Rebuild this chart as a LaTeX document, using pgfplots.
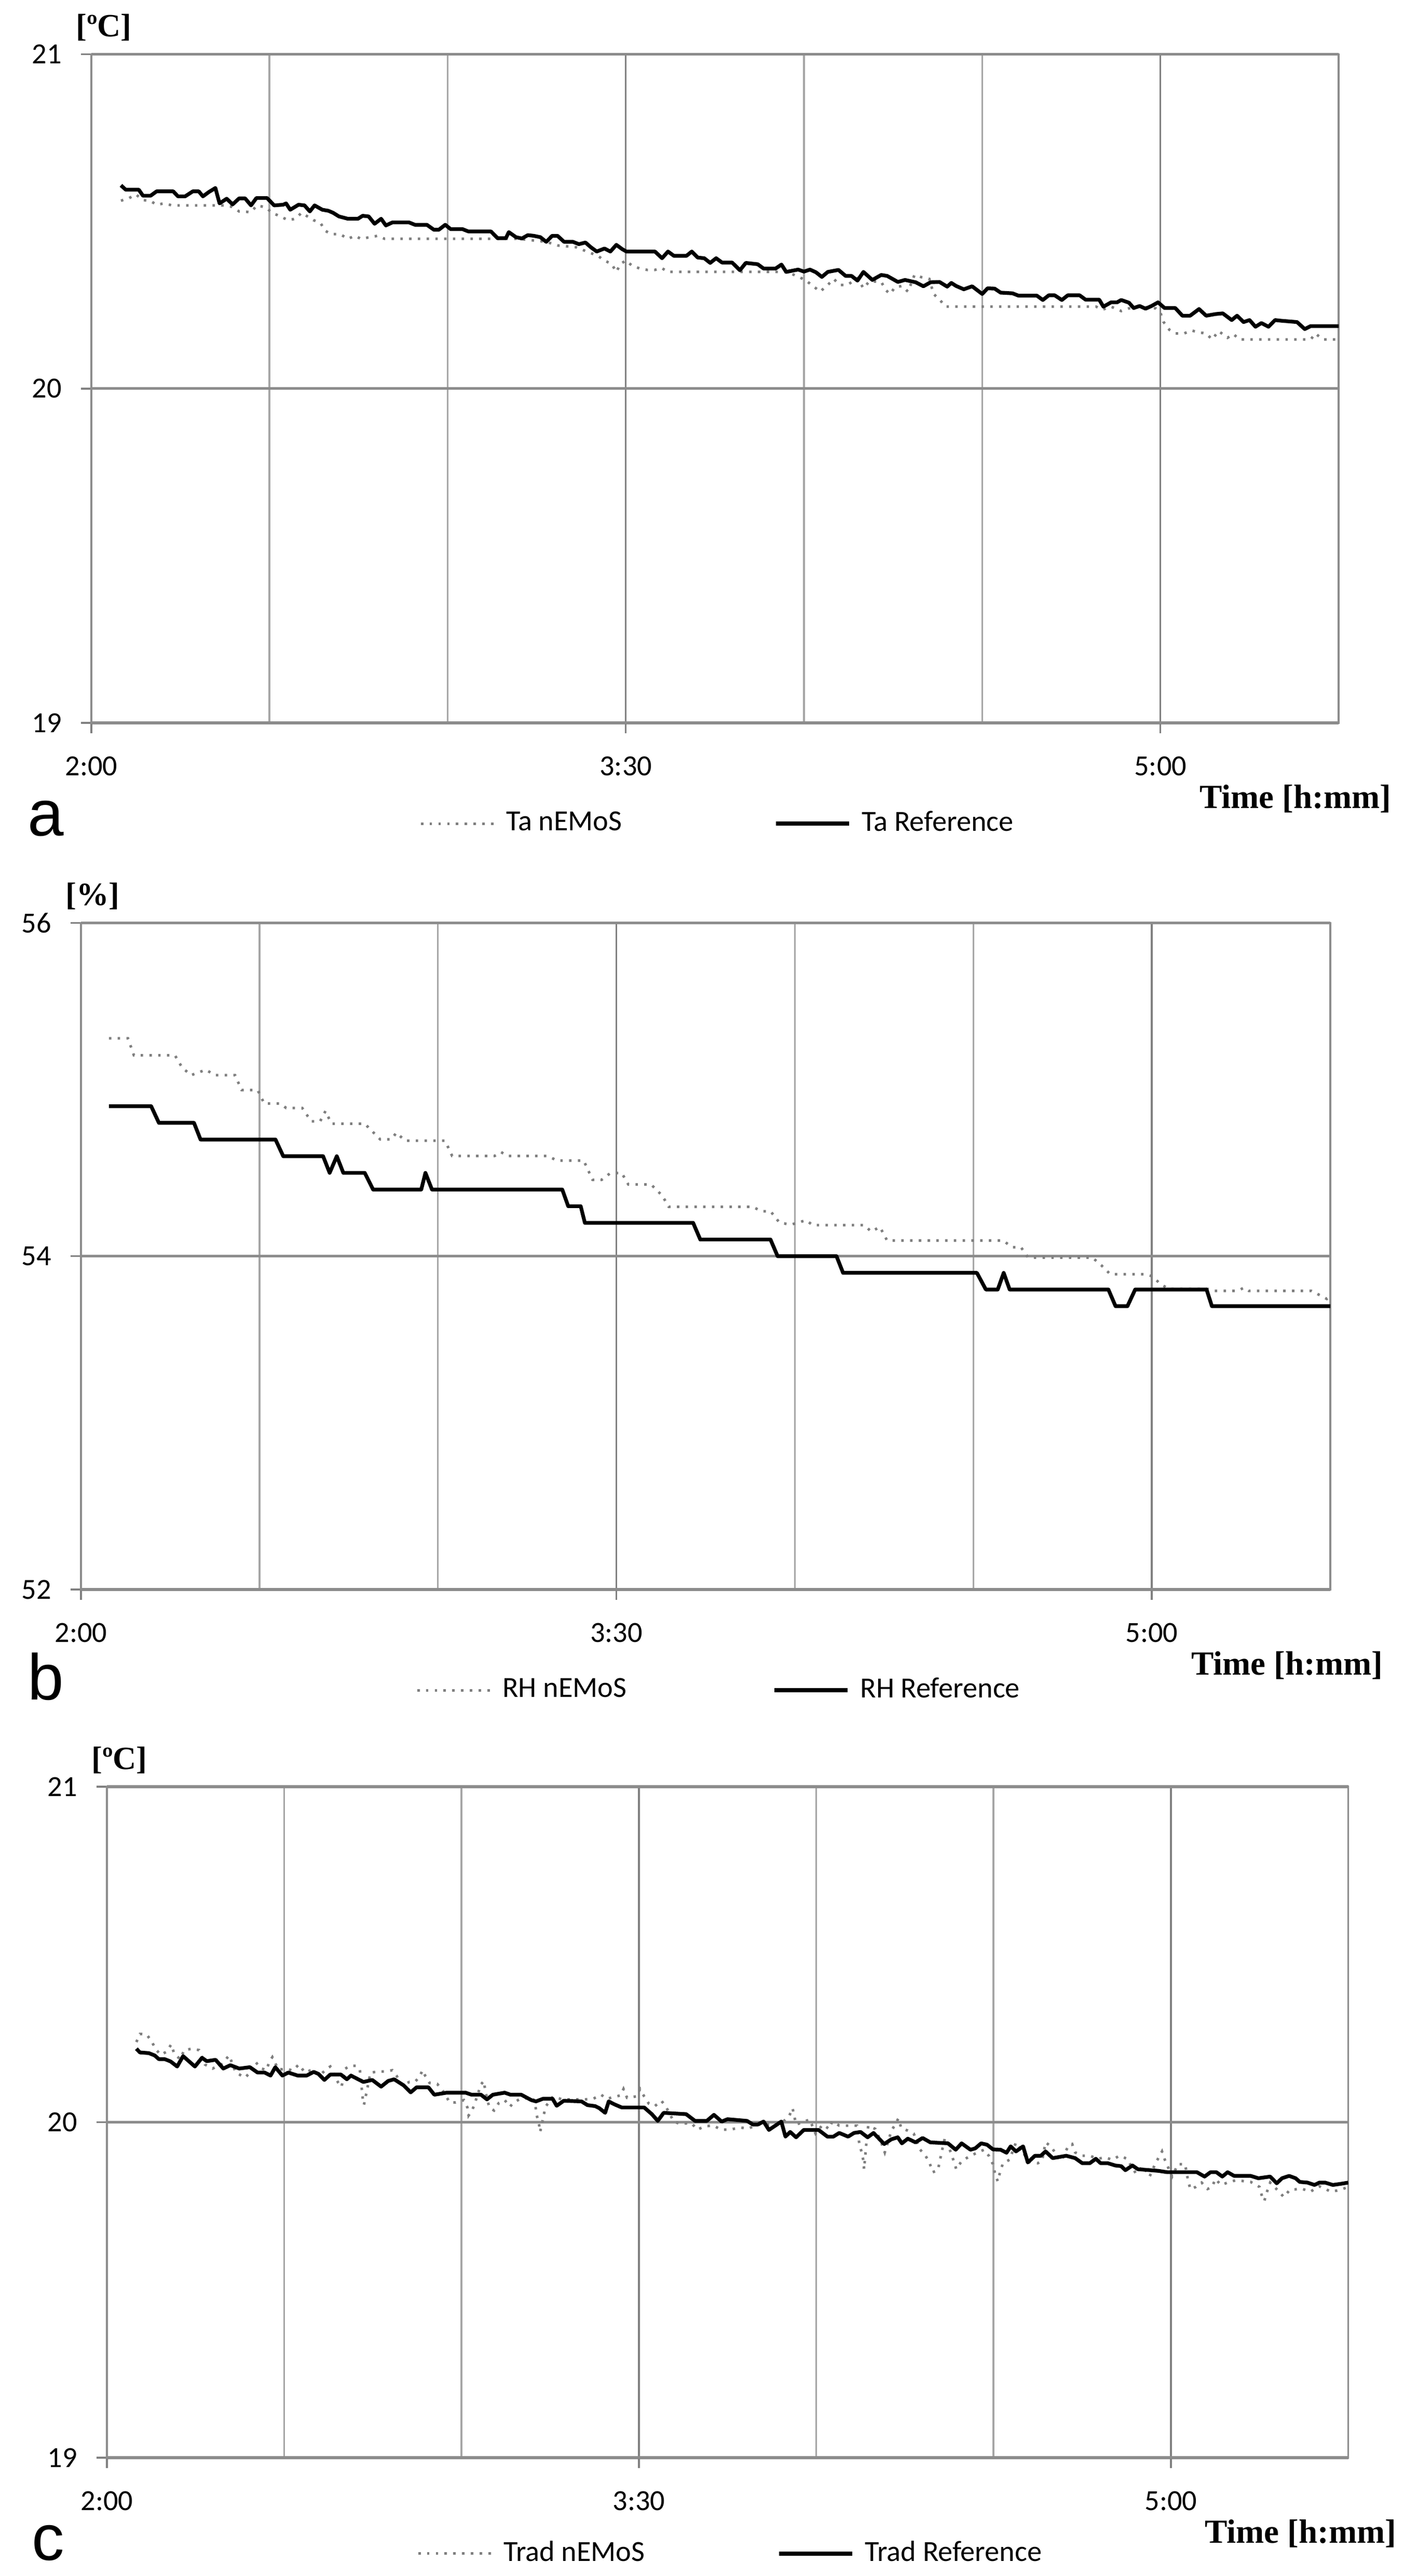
\documentclass[border=0pt]{standalone}
\usepackage{fontspec}
\usepackage{pgfplots}
\pgfplotsset{compat=1.18}
\newfontfamily\carlito{Carlito}
\newfontfamily\libserif{Liberation Serif}
\newfontfamily\libsans{Liberation Sans}
\definecolor{gridmaj}{HTML}{808080}
\definecolor{gridmin}{HTML}{A6A6A6}
\definecolor{hgrid}{HTML}{8C8C8C}
\definecolor{dotc}{HTML}{7F7F7F}
\pgfplotsset{
  panel/.style={
    scale only axis,
    xmin=0, xmax=210,
    xtick={0,90,180},
    xticklabels={2:00,3:30,5:00},
    minor xtick={30,60,120,150,210},
    xtick pos=bottom, ytick pos=left,
    xmajorgrids, xminorgrids, ymajorgrids,
    major x grid style={draw=gridmaj, line width=0.55pt},
    minor x grid style={draw=gridmin, line width=0.55pt},
    y grid style={draw=hgrid, line width=0.85pt},
    axis line style={draw=hgrid, line width=0.6pt},
    tick align=outside,
    major tick length=3.2pt,
    minor tick length=0pt,
    tick style={draw=gridmaj, line width=0.55pt},
    x tick label style={font=\carlito\fontsize{9}{10}\selectfont, yshift=-3.7pt},
    y tick label style={font=\carlito\fontsize{9}{10}\selectfont, xshift=-2.4pt},
    /pgf/number format/assume math mode=true,
    legend columns=2,
    legend style={draw=none, fill=none, inner sep=0pt, anchor=west,
       font=\carlito\fontsize{9}{10}\selectfont,
       nodes={inner sep=0pt}, column sep=3.4pt},
    legend image code/.code={\draw[##1] (0pt,0pt) -- (22.5pt,0pt);},
    legend cell align=left,
  },
  nemos/.style={draw=dotc, line width=0.8pt, dash pattern=on 0.75pt off 1.95pt, line cap=butt, mark=none},
  refl/.style={draw=black, line width=1.15pt, line join=round, mark=none},
}
\begin{document}
\begin{tikzpicture}
\path[use as bounding box] (0,0) rectangle (432.8pt,-794.24pt);

% ---------------- panel a ----------------
\begin{axis}[panel, at={(28.13pt,-222.88pt)}, anchor=south west,
  width=384.51pt, height=206.14pt,
  ymin=19, ymax=21, ytick={19,20,21},
  legend style={at={(axis description cs:0.2627,-0.1506)},
    /tikz/every even column/.append style={column sep=46.9pt}}]
\addplot[nemos] coordinates {
(5.0,20.562) (6.4,20.570) (7.5,20.581) (8.7,20.564) (10.0,20.561) (11.0,20.550) (12.3,20.554) (13.6,20.548) (22.3,20.548) (23.6,20.544) (24.9,20.530) (26.9,20.528) (27.9,20.548) (29.4,20.542) (30.4,20.526) (31.6,20.517) (33.1,20.504) (34.4,20.508) (35.4,20.526) (37.4,20.504) (38.6,20.495) (39.4,20.472) (40.4,20.462) (41.9,20.462) (43.2,20.448) (44.4,20.457) (45.4,20.448) (48.2,20.457) (49.4,20.448) (67.3,20.448) (72.0,20.448) (76.6,20.439) (78.6,20.428) (81.6,20.423) (85.3,20.397) (86.4,20.383) (87.6,20.373) (88.4,20.349) (89.1,20.373) (90.0,20.383) (91.1,20.367) (92.4,20.359) (93.6,20.355) (94.9,20.355) (96.0,20.361) (97.1,20.349) (117.2,20.349) (120.2,20.325) (121.5,20.307) (122.7,20.290) (124.0,20.310) (125.0,20.328) (126.0,20.310) (127.3,20.310) (129.0,20.330) (130.0,20.300) (131.0,20.321) (133.0,20.319) (133.8,20.294) (134.5,20.283) (135.3,20.303) (136.5,20.307) (137.5,20.290) (138.6,20.340) (139.6,20.334) (141.1,20.328) (141.8,20.283) (142.8,20.267) (143.8,20.245) (169.2,20.245) (170.2,20.236) (171.7,20.245) (173.4,20.232) (174.7,20.240) (176.7,20.245) (179.2,20.240) (180.0,20.227) (180.5,20.200) (181.5,20.176) (182.5,20.165) (184.0,20.165) (185.2,20.174) (186.5,20.168) (187.7,20.165) (188.7,20.147) (189.8,20.172) (191.3,20.152) (192.3,20.163) (193.3,20.147) (205.3,20.147) (206.1,20.165) (207.3,20.147) (210,20.147)
};
\addlegendentry{Ta nEMoS}
\addplot[refl] coordinates {
(5.0,20.608) (5.8,20.595) (8.0,20.595) (8.7,20.577) (10.0,20.577) (11.0,20.590) (13.8,20.590) (14.6,20.575) (15.8,20.575) (17.1,20.590) (18.1,20.590) (18.8,20.575) (19.8,20.588) (20.9,20.600) (21.6,20.554) (22.8,20.568) (23.8,20.551) (24.9,20.569) (25.9,20.569) (26.9,20.548) (27.8,20.570) (29.6,20.570) (30.8,20.548) (32.3,20.550) (32.8,20.554) (33.5,20.535) (34.9,20.550) (35.9,20.548) (36.8,20.530) (37.6,20.548) (38.9,20.535) (39.9,20.532) (40.7,20.526) (41.7,20.515) (43.2,20.508) (44.9,20.508) (45.7,20.517) (46.7,20.515) (47.7,20.493) (48.8,20.508) (49.6,20.488) (50.7,20.497) (53.5,20.497) (54.5,20.490) (56.5,20.490) (57.7,20.475) (58.5,20.475) (59.6,20.490) (60.5,20.477) (62.5,20.477) (63.5,20.470) (67.3,20.470) (68.4,20.450) (69.8,20.450) (70.3,20.468) (71.5,20.453) (72.5,20.449) (73.5,20.459) (74.5,20.457) (75.6,20.453) (76.6,20.439) (77.6,20.457) (78.5,20.457) (79.6,20.439) (81.1,20.439) (82.1,20.432) (83.2,20.437) (84.1,20.423) (85.1,20.410) (86.4,20.419) (87.4,20.410) (88.4,20.430) (89.4,20.417) (90.1,20.410) (94.9,20.410) (96.1,20.390) (97.1,20.410) (98.1,20.397) (100.2,20.397) (101.1,20.410) (102.1,20.392) (103.2,20.390) (104.2,20.376) (105.2,20.390) (106.2,20.377) (107.9,20.377) (109.2,20.354) (110.2,20.376) (112.2,20.372) (113.2,20.359) (115.2,20.359) (116.2,20.371) (117.0,20.349) (119.0,20.356) (120.0,20.350) (121.0,20.356) (122.0,20.348) (123.0,20.334) (124.0,20.349) (125.8,20.355) (127.0,20.337) (128.0,20.337) (129.0,20.323) (130.0,20.349) (131.5,20.325) (133.0,20.340) (134.0,20.337) (135.8,20.319) (137.0,20.325) (138.8,20.318) (140.1,20.306) (141.3,20.318) (142.8,20.319) (144.1,20.305) (144.8,20.316) (145.6,20.307) (146.9,20.297) (148.3,20.306) (150.0,20.283) (150.9,20.300) (152.1,20.299) (153.1,20.287) (155.1,20.285) (156.1,20.278) (159.2,20.278) (160.2,20.265) (161.2,20.279) (162.2,20.279) (163.4,20.265) (164.4,20.279) (166.4,20.279) (167.4,20.266) (169.7,20.266) (170.4,20.245) (171.7,20.258) (172.7,20.258) (173.4,20.265) (174.7,20.257) (175.5,20.241) (176.5,20.247) (177.5,20.239) (178.5,20.247) (179.6,20.258) (180.7,20.241) (182.5,20.241) (183.7,20.218) (185.0,20.218) (186.5,20.238) (187.7,20.218) (189.3,20.223) (190.5,20.225) (192.0,20.205) (192.9,20.218) (194.0,20.199) (195.0,20.205) (196.0,20.185) (197.0,20.196) (198.2,20.185) (199.3,20.205) (200.3,20.203) (203.0,20.199) (204.3,20.178) (205.3,20.187) (210,20.187)
};
\addlegendentry{Ta Reference}
\end{axis}

% ---------------- panel b ----------------
\begin{axis}[panel, at={(24.96pt,-490.08pt)}, anchor=south west,
  width=385.12pt, height=205.54pt,
  ymin=52, ymax=56, ytick={52,54,56},
  legend style={at={(axis description cs:0.2676,-0.151)},
    /tikz/every even column/.append style={column sep=45pt}}]
\addplot[nemos] coordinates {
(4.7,55.307) (7.9,55.307) (8.9,55.205) (15.8,55.205) (17.0,55.132) (18.5,55.086) (21.0,55.119) (22.5,55.086) (25.9,55.086) (27.0,54.997) (29.7,54.997) (30.8,54.916) (33.5,54.916) (34.5,54.889) (37.2,54.889) (38.7,54.809) (40.2,54.809) (41.1,54.871) (42.1,54.795) (47.7,54.795) (50.3,54.701) (52.2,54.701) (53.0,54.741) (54.5,54.693) (61.2,54.693) (62.4,54.601) (69.5,54.601) (70.6,54.625) (71.7,54.601) (78.5,54.601) (80.0,54.574) (84.5,54.574) (86.0,54.458) (87.5,54.458) (89.0,54.499) (90.9,54.499) (92.0,54.431) (95.8,54.431) (97.7,54.364) (98.8,54.296) (112.9,54.296) (114.4,54.270) (115.9,54.270) (117.4,54.202) (119.3,54.189) (121.9,54.216) (123.0,54.186) (131.7,54.186) (132.8,54.148) (134.3,54.175) (135.5,54.094) (155.0,54.094) (156.5,54.054) (158.0,54.054) (159.2,53.992) (170.0,53.992) (171.5,53.946) (173.0,53.892) (179.0,53.892) (180.1,53.879) (181.3,53.838) (182.8,53.803) (189.5,53.803) (190.5,53.792) (194.4,53.792) (195.5,53.811) (196.3,53.792) (206.8,53.792) (208.3,53.765) (209.4,53.744) (210,53.771)
};
\addlegendentry{RH nEMoS}
\addplot[refl] coordinates {
(4.7,54.9) (11.8,54.9) (13.1,54.8) (19.0,54.8) (20.1,54.7) (32.7,54.7) (34.0,54.6) (40.7,54.6) (41.8,54.5) (43.0,54.6) (44.1,54.5) (47.7,54.5) (49.1,54.4) (57.2,54.4) (57.9,54.5) (59.0,54.4) (80.9,54.4) (81.9,54.3) (84.0,54.3) (84.7,54.2) (102.9,54.2) (104.1,54.1) (115.9,54.1) (117.1,54.0) (127.0,54.0) (128.1,53.9) (150.6,53.9) (152.1,53.8) (154.1,53.8) (155.1,53.9) (156.1,53.8) (172.7,53.8) (173.9,53.7) (175.9,53.7) (177.2,53.8) (189.2,53.8) (190.1,53.7) (210,53.7)
};
\addlegendentry{RH Reference}
\end{axis}

% ---------------- panel c ----------------
\begin{axis}[panel, at={(32.93pt,-757.76pt)}, anchor=south west,
  width=382.67pt, height=206.88pt,
  ymin=19, ymax=21, ytick={19,20,21},
  legend style={at={(axis description cs:0.2493,-0.143)},
    /tikz/every even column/.append style={column sep=40.8pt}}]
\addplot[nemos] coordinates {
(5.0,20.239) (5.6,20.263) (6.7,20.262) (7.6,20.241) (8.2,20.219) (9.1,20.201) (10.1,20.210) (10.9,20.232) (11.4,20.204) (12.4,20.188) (13.1,20.215) (14.4,20.219) (15.6,20.215) (16.6,20.172) (17.9,20.160) (19.4,20.173) (20.7,20.199) (21.8,20.148) (23.4,20.133) (24.0,20.144) (25.2,20.179) (26.0,20.161) (27.0,20.155) (27.5,20.181) (28.0,20.194) (29.0,20.157) (30.5,20.159) (31.4,20.154) (32.5,20.172) (33.5,20.148) (34.8,20.157) (36.0,20.139) (37.3,20.161) (37.8,20.166) (39.1,20.119) (39.7,20.105) (40.3,20.159) (41.1,20.168) (42.2,20.168) (42.8,20.157) (43.1,20.104) (43.3,20.070) (43.5,20.052) (44.0,20.095) (44.6,20.148) (46.0,20.151) (47.1,20.151) (48.3,20.155) (49.0,20.139) (49.9,20.110) (51.2,20.120) (52.1,20.120) (52.9,20.135) (53.4,20.155) (53.9,20.137) (54.6,20.117) (55.9,20.114) (56.8,20.095) (58.0,20.059) (59.0,20.059) (60.4,20.066) (61.0,20.044) (61.2,20.020) (61.8,20.035) (62.3,20.059) (63.3,20.113) (63.8,20.123) (64.0,20.095) (64.7,20.044) (65.5,20.035) (66.3,20.057) (67.3,20.066) (68.2,20.046) (68.8,20.059) (69.8,20.068) (72.0,20.074) (72.5,20.049) (72.7,20.022) (73.1,19.996) (73.3,19.971) (73.9,20.020) (74.2,20.046) (75.5,20.077) (77.0,20.068) (78.6,20.068) (80.8,20.068) (82.3,20.070) (83.6,20.082) (84.6,20.070) (86.9,20.080) (87.4,20.099) (88.0,20.073) (89.6,20.077) (90.2,20.099) (90.9,20.077) (91.7,20.055) (92.7,20.048) (93.8,20.064) (94.5,20.049) (95.9,20.002) (96.8,19.996) (98.9,19.997) (99.9,19.978) (101.2,19.988) (102.6,19.990) (103.9,19.978) (105.3,19.978) (107.3,19.984) (108.5,19.981) (110.1,19.993) (112.6,19.993) (114.1,19.997) (115.4,20.017) (116.0,20.042) (116.6,19.993) (118.9,20.008) (119.9,19.966) (121.1,19.993) (122.2,19.980) (122.7,20.002) (123.9,19.990) (125.4,19.990) (126.9,19.990) (127.3,19.935) (127.7,19.910) (128.0,19.884) (128.1,19.860) (128.5,19.940) (128.8,19.990) (130.0,19.980) (131.0,19.940) (131.6,19.910) (132.7,19.973) (133.9,20.011) (134.4,19.982) (135.5,19.975) (136.5,19.966) (137.5,19.920) (138.5,19.900) (139.2,19.878) (139.7,19.851) (140.6,19.857) (140.9,19.884) (141.2,19.909) (141.8,19.955) (142.9,19.904) (143.3,19.882) (143.7,19.860) (144.6,19.884) (145.9,19.898) (147.2,19.909) (148.4,19.918) (149.2,19.900) (149.9,19.875) (150.2,19.851) (150.7,19.824) (151.1,19.851) (151.6,19.878) (152.7,19.888) (153.8,19.940) (154.7,19.918) (156.0,19.882) (157.5,19.878) (158.2,19.884) (158.8,19.940) (159.7,19.928) (160.5,19.907) (161.4,19.884) (162.7,19.931) (163.3,19.935) (163.8,19.910) (165.0,19.900) (166.3,19.900) (167.6,19.891) (168.9,19.895) (170.1,19.888) (171.3,19.900) (172.6,19.891) (173.3,19.869) (174.1,19.847) (175.3,19.869) (176.4,19.838) (177.4,19.878) (178.1,19.900) (178.5,19.913) (179.0,19.887) (180.2,19.838) (181.2,19.875) (182.4,19.875) (182.9,19.827) (183.3,19.800) (184.2,19.807) (185.2,19.820) (186.2,19.801) (187.0,19.807) (187.5,19.831) (188.5,19.813) (189.6,19.820) (191.0,19.827) (193.5,19.822) (195.0,19.807) (195.4,19.780) (195.8,19.765) (196.3,19.795) (196.8,19.820) (198.3,19.793) (199.1,19.777) (200.1,19.798) (202.1,19.802) (203.6,19.793) (205.1,19.809) (207.1,19.793) (208.6,19.798) (210,19.807)
};
\addlegendentry{Trad nEMoS}
\addplot[refl] coordinates {
(5.0,20.219) (5.6,20.208) (7.1,20.206) (8.1,20.199) (8.8,20.188) (9.8,20.188) (10.8,20.181) (11.9,20.166) (12.9,20.197) (14.9,20.166) (16.1,20.192) (16.9,20.182) (18.4,20.186) (19.7,20.160) (20.9,20.170) (22.4,20.160) (24.2,20.164) (25.5,20.148) (26.7,20.148) (27.7,20.139) (28.5,20.164) (29.7,20.139) (30.7,20.148) (32.3,20.139) (33.8,20.139) (35.0,20.150) (35.8,20.144) (36.8,20.126) (37.8,20.142) (39.6,20.142) (40.6,20.128) (41.3,20.139) (43.4,20.120) (44.9,20.126) (46.4,20.106) (47.6,20.123) (48.6,20.128) (50.2,20.110) (51.4,20.089) (52.4,20.104) (54.4,20.104) (55.4,20.082) (57.5,20.088) (60.7,20.088) (61.7,20.082) (63.3,20.082) (64.3,20.068) (65.3,20.082) (67.3,20.088) (68.3,20.082) (70.1,20.082) (71.8,20.066) (72.6,20.062) (73.8,20.070) (75.4,20.070) (76.1,20.049) (77.3,20.064) (80.3,20.062) (81.3,20.051) (82.6,20.048) (83.3,20.042) (84.3,20.028) (84.9,20.062) (85.9,20.053) (87.1,20.044) (90.9,20.044) (92.2,20.024) (93.2,20.004) (94.2,20.028) (98.0,20.024) (99.5,20.004) (101.5,20.004) (102.7,20.022) (104.0,20.002) (105.0,20.009) (108.3,20.004) (109.3,19.993) (110.1,19.993) (111.1,20.002) (112.0,19.977) (113.1,19.990) (114.1,20.002) (114.8,19.957) (115.6,19.971) (116.6,19.955) (117.9,19.977) (120.4,19.977) (121.9,19.957) (122.9,19.957) (123.9,19.968) (125.4,19.957) (126.4,19.968) (127.5,19.971) (128.7,19.955) (129.7,19.968) (131.5,19.935) (132.7,19.949) (133.8,19.955) (134.5,19.937) (135.5,19.951) (136.8,19.940) (138.0,19.953) (139.3,19.940) (142.3,19.937) (143.6,19.918) (144.6,19.937) (146.1,19.918) (146.9,19.922) (147.9,19.937) (148.9,19.933) (149.9,19.919) (151.2,19.918) (152.2,19.909) (152.9,19.928) (153.8,19.913) (155.0,19.928) (155.8,19.880) (157.0,19.900) (158.0,19.900) (158.8,19.913) (160.0,19.893) (162.3,19.900) (163.8,19.893) (165.0,19.878) (166.3,19.878) (167.3,19.891) (168.1,19.878) (169.3,19.878) (170.6,19.871) (171.6,19.869) (172.3,19.857) (173.5,19.871) (174.4,19.860) (177.9,19.855) (179.4,19.851) (184.4,19.851) (185.7,19.838) (186.7,19.851) (187.7,19.851) (188.7,19.838) (189.6,19.851) (190.7,19.840) (193.5,19.840) (194.8,19.833) (196.8,19.838) (197.9,19.818) (198.8,19.833) (200.0,19.840) (201.1,19.833) (201.8,19.822) (203.1,19.820) (204.3,19.813) (205.1,19.820) (206.1,19.820) (207.4,19.813) (208.6,19.816) (210,19.820)
};
\addlegendentry{Trad Reference}
\end{axis}

% ---------------- labels ----------------
\begin{scope}[every node/.style={inner sep=0pt, anchor=base west}]
\node[font=\libserif\bfseries\fontsize{10}{12}\selectfont] at (23.2pt,-11.36pt) {[ºC]};
\node[font=\libserif\bfseries\fontsize{10}{12}\selectfont] at (20pt,-279.04pt) {[\%]};
\node[font=\libserif\bfseries\fontsize{10}{12}\selectfont] at (28pt,-545.44pt) {[ºC]};
\node[font=\libserif\bfseries\fontsize{10.4}{12}\selectfont] at (369.6pt,-249.12pt) {Time [h:mm]};
\node[font=\libserif\bfseries\fontsize{10.4}{12}\selectfont] at (367.04pt,-516.32pt) {Time [h:mm]};
\node[font=\libserif\bfseries\fontsize{10.4}{12}\selectfont] at (371.2pt,-784.0pt) {Time [h:mm]};
\node[font=\libsans\fontsize{20}{24}\selectfont] at (8.32pt,-257.6pt) {a};
\node[font=\libsans\fontsize{20}{24}\selectfont] at (8.32pt,-524pt) {b};
\node[font=\libsans\fontsize{20}{24}\selectfont] at (9.6pt,-789.28pt) {c};
\end{scope}
\end{tikzpicture}
\end{document}
